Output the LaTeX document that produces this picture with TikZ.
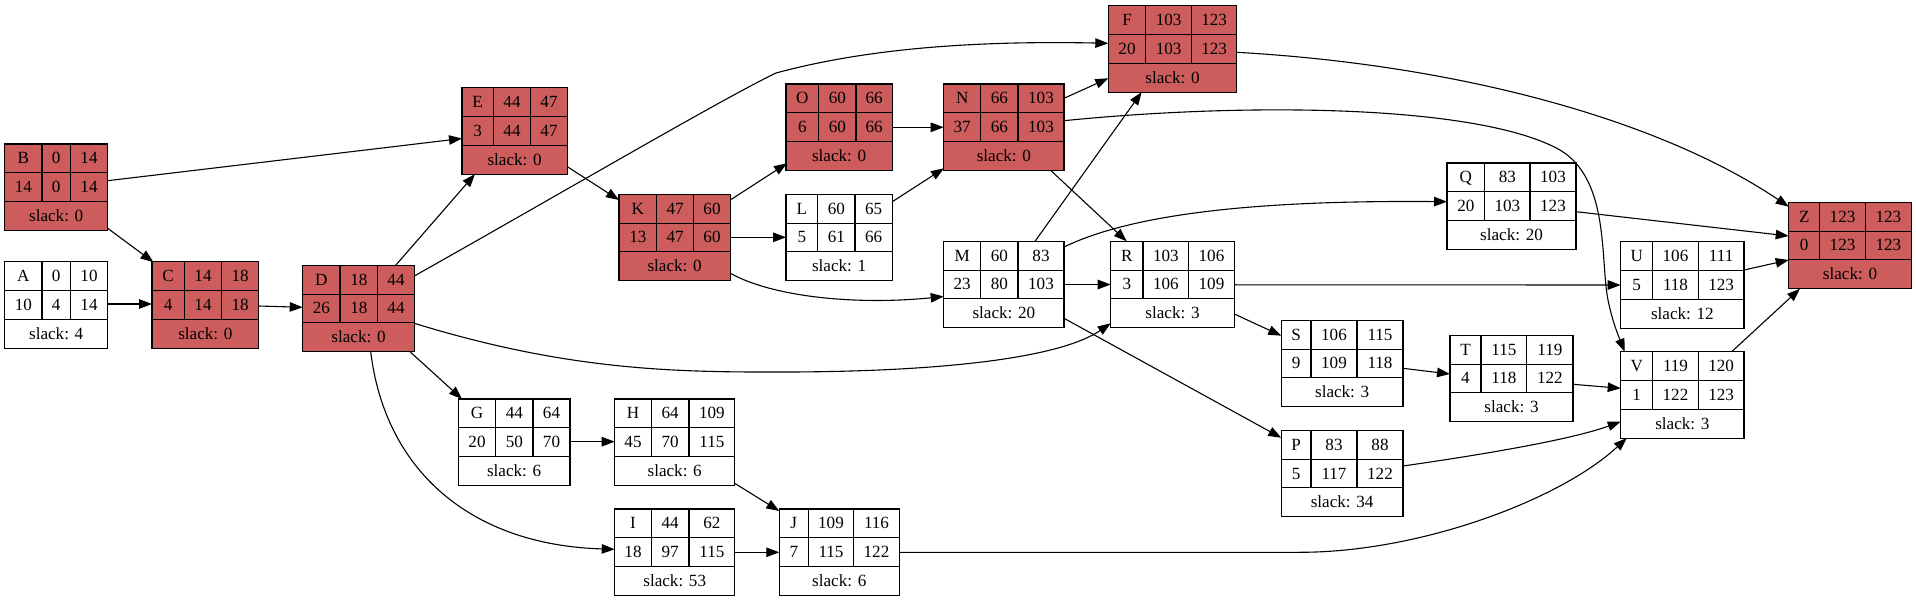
\documentclass[tikz,border=0pt]{standalone}
\usepackage{fontspec}
\setmainfont{Liberation Serif}
\usetikzlibrary{arrows.meta}
\definecolor{pertred}{HTML}{CD5C5C}
\tikzset{
 pbox/.style={draw=black, line width=1.1pt, inner sep=0pt, outer sep=0pt},
 crit/.style={fill=pertred},
 free/.style={fill=white},
 pline/.style={draw=black, line width=1.1pt},
 ptext/.style={anchor=base, inner sep=0pt, font=\fontsize{17.1}{20}\selectfont},
 edge/.style={draw=black, line width=1.1pt, -{Triangle[length=13pt,width=9.5pt]}},
}
% id, x0, x1, x2, x3, ytop, fill style
\newcommand\pertbox[7]{%
 \node[pbox,#7,minimum width={#5-#2},minimum height=86.4,anchor=north west] (#1) at (#2,#6) {};
 \draw[pline] (#2,{#6+28.8}) -- (#5,{#6+28.8}) (#2,{#6+57.6}) -- (#5,{#6+57.6})
   (#3,#6) -- (#3,{#6+57.6}) (#4,#6) -- (#4,{#6+57.6});
 \coordinate (#1-c1) at ({(#2+#3)/2},{#6+19.9});
 \coordinate (#1-c2) at ({(#3+#4)/2},{#6+19.9});
 \coordinate (#1-c3) at ({(#4+#5)/2},{#6+19.9});
 \coordinate (#1-d1) at ({(#2+#3)/2},{#6+48.7});
 \coordinate (#1-d2) at ({(#3+#4)/2},{#6+48.7});
 \coordinate (#1-d3) at ({(#4+#5)/2},{#6+48.7});
 \coordinate (#1-s) at ({(#2+#5)/2},{#6+77.5});
}
\newcommand\perttext[8]{%
 \node[ptext] (#1-t1) at (#1-c1) {#2};
 \node[ptext] (#1-t2) at (#1-c2) {#3};
 \node[ptext] (#1-t3) at (#1-c3) {#4};
 \node[ptext] (#1-t4) at (#1-d1) {#5};
 \node[ptext] (#1-t5) at (#1-d2) {#6};
 \node[ptext] (#1-t6) at (#1-d3) {#7};
 \node[ptext] (#1-t7) at (#1-s) {slack: #8};
}
\begin{document}
\begin{tikzpicture}[x=1pt,y=-1pt]
\useasboundingbox[fill=white] (0,0) rectangle (1916,601);

\pertbox{B}{4.7}{42}{70.3}{107.7}{144}{crit}
\perttext{B}{B}{0}{14}{14}{0}{14}{0}
\pertbox{A}{4.7}{42}{70.3}{107.7}{261.7}{free}
\perttext{A}{A}{0}{10}{10}{4}{14}{4}
\pertbox{C}{152}{184.3}{221.7}{258.7}{261.7}{crit}
\perttext{C}{C}{14}{18}{4}{14}{18}{0}
\pertbox{D}{302.7}{340}{377.7}{414.3}{265.3}{crit}
\perttext{D}{D}{18}{44}{26}{18}{44}{0}
\pertbox{E}{462}{493.3}{530.7}{567.3}{87.7}{crit}
\perttext{E}{E}{44}{47}{3}{44}{47}{0}
\pertbox{K}{619}{656.7}{693.7}{730.3}{194.3}{crit}
\perttext{K}{K}{47}{60}{13}{47}{60}{0}
\pertbox{O}{786}{818.7}{856}{892.3}{84}{crit}
\perttext{O}{O}{60}{66}{6}{60}{66}{0}
\pertbox{L}{786}{817.7}{855}{892.3}{194.3}{free}
\perttext{L}{L}{60}{65}{5}{61}{66}{1}
\pertbox{F}{1108.3}{1145.7}{1191.7}{1236.7}{5.7}{crit}
\perttext{F}{F}{103}{123}{20}{103}{123}{0}
\pertbox{N}{943.7}{980.7}{1018}{1064}{84}{crit}
\perttext{N}{N}{66}{103}{37}{66}{103}{0}
\pertbox{M}{943.7}{980.7}{1018}{1064}{241.3}{free}
\perttext{M}{M}{60}{83}{23}{80}{103}{20}
\pertbox{R}{1110.7}{1143}{1188.7}{1234.3}{241.3}{free}
\perttext{R}{R}{103}{106}{3}{106}{109}{3}
\pertbox{Q}{1447}{1484.7}{1530}{1576}{163}{free}
\perttext{Q}{Q}{83}{103}{20}{103}{123}{20}
\pertbox{Z}{1788.7}{1819.7}{1865.3}{1911.3}{202.3}{crit}
\perttext{Z}{Z}{123}{123}{0}{123}{123}{0}
\pertbox{U}{1620.7}{1652.7}{1698.3}{1744}{241.7}{free}
\perttext{U}{U}{106}{111}{5}{118}{123}{12}
\pertbox{T}{1450}{1481}{1526.7}{1573}{335.3}{free}
\perttext{T}{T}{115}{119}{4}{118}{122}{3}
\pertbox{V}{1620.7}{1652.7}{1698.3}{1744}{351.7}{free}
\perttext{V}{V}{119}{120}{1}{122}{123}{3}
\pertbox{S}{1281.3}{1311}{1357}{1403}{320.3}{free}
\perttext{S}{S}{106}{115}{9}{109}{118}{3}
\pertbox{P}{1281.3}{1311}{1357}{1403}{430.3}{free}
\perttext{P}{P}{83}{88}{5}{117}{122}{34}
\pertbox{G}{458.3}{495.7}{533}{570}{399}{free}
\perttext{G}{G}{44}{64}{20}{50}{70}{6}
\pertbox{H}{614.7}{651.3}{689}{734.7}{399}{free}
\perttext{H}{H}{64}{109}{45}{70}{115}{6}
\pertbox{I}{614.7}{651.3}{689}{734.7}{509}{free}
\perttext{I}{I}{44}{62}{18}{97}{115}{53}
\pertbox{J}{779.3}{808.3}{853.7}{899.3}{509}{free}
\perttext{J}{J}{109}{116}{7}{115}{122}{6}

\draw[edge] ([shift={(103,36.7)}]B.north west) -- ([shift={(0,50.8)}]E.north west);
\draw[edge] ([shift={(103,84.3)}]B.north west) -- ([shift={(1.5,0.5)}]C.north west);
\draw[edge] ([shift={(103,42.3)}]A.north west) -- ([shift={(0,42.3)}]C.north west);
\draw[edge] ([shift={(106.7,44.3)}]C.north west) -- ([shift={(0,42)}]D.north west);
\draw[edge] ([shift={(93,0)}]D.north west) -- ([shift={(13,86.4)}]E.north west);
\draw[edge] ([shift={(111.6,10.7)}]D.north west) .. controls (560,194) and (720,100) .. (776,73) .. controls (850,53) and (950,40) .. ([shift={(0,37.6)}]F.north west);
\draw[edge] ([shift={(111.6,58)}]D.north west) .. controls (550,365) and (650,372) .. (760,372) .. controls (940,373) and (1060,358) .. ([shift={(0,82)}]R.north west);
\draw[edge] ([shift={(107.3,86.4)}]D.north west) -- ([shift={(3.7,0)}]G.north west);
\draw[edge] ([shift={(68,86.4)}]D.north west) .. controls (385,470) and (470,545) .. ([shift={(0,40.3)}]I.north west);
\draw[edge] ([shift={(105.3,79)}]E.north west) -- ([shift={(0,5.7)}]K.north west);
\draw[edge] ([shift={(111.3,5.7)}]K.north west) -- ([shift={(1,79.3)}]O.north west);
\draw[edge] ([shift={(111.3,43)}]K.north west) -- ([shift={(0,43)}]L.north west);
\draw[edge] ([shift={(111.3,79)}]K.north west) .. controls (775,298) and (860,305) .. ([shift={(0,55.2)}]M.north west);
\draw[edge] ([shift={(106.3,7.4)}]L.north west) -- ([shift={(0.3,84.3)}]N.north west);
\draw[edge] ([shift={(106.3,43.3)}]O.north west) -- ([shift={(0,43.3)}]N.north west);
\draw[edge] ([shift={(120.3,14.3)}]N.north west) -- ([shift={(0,72.6)}]F.north west);
\draw[edge] ([shift={(120.3,36.7)}]N.north west) .. controls (1250,102) and (1480,105) .. (1560,150) .. controls (1610,180) and (1600,260) .. (1608,300) .. controls (1612,320) and (1618,335) .. ([shift={(4,0)}]V.north west);
\draw[edge] ([shift={(107,86.4)}]N.north west) -- ([shift={(16,0)}]R.north west);
\draw[edge] ([shift={(91.3,0)}]M.north west) -- ([shift={(33.4,86.4)}]F.north west);
\draw[edge] ([shift={(120.3,5.7)}]M.north west) .. controls (1130,215) and (1250,200) .. ([shift={(0,38.7)}]Q.north west);
\draw[edge] ([shift={(120.3,43.2)}]M.north west) -- ([shift={(0,43.2)}]R.north west);
\draw[edge] ([shift={(120.3,77)}]M.north west) -- ([shift={(0,7.5)}]P.north west);
\draw[edge] ([shift={(123.6,43.5)}]R.north west) -- ([shift={(0,43.3)}]U.north west);
\draw[edge] ([shift={(123.6,72.7)}]R.north west) -- ([shift={(0,15.4)}]S.north west);
\draw[edge] ([shift={(129,48.7)}]Q.north west) -- ([shift={(0,33.7)}]Z.north west);
\draw[edge] ([shift={(128.4,46.6)}]F.north west) .. controls (1460,65) and (1660,120) .. ([shift={(0,4.4)}]Z.north west);
\draw[edge] ([shift={(123.3,28.3)}]U.north west) -- ([shift={(0,57.7)}]Z.north west);
\draw[edge] ([shift={(111,0)}]V.north west) -- ([shift={(11.3,86.4)}]Z.north west);
\draw[edge] ([shift={(121.7,48)}]S.north west) -- ([shift={(0,38.7)}]T.north west);
\draw[edge] ([shift={(123,49)}]T.north west) -- ([shift={(0,36.6)}]V.north west);
\draw[edge] ([shift={(121.7,35.7)}]P.north west) .. controls (1480,455) and (1570,440) .. ([shift={(0,70)}]V.north west);
\draw[edge] ([shift={(120,43.3)}]J.north west) -- (1300,552.3) .. controls (1420,552.3) and (1560,500) .. ([shift={(6,86.4)}]V.north west);
\draw[edge] ([shift={(111.7,42.7)}]G.north west) -- ([shift={(0,42.7)}]H.north west);
\draw[edge] ([shift={(120,84.3)}]H.north west) -- ([shift={(0,2)}]J.north west);
\draw[edge] ([shift={(120,43.3)}]I.north west) -- ([shift={(0,43.3)}]J.north west);
\end{tikzpicture}
\end{document}
